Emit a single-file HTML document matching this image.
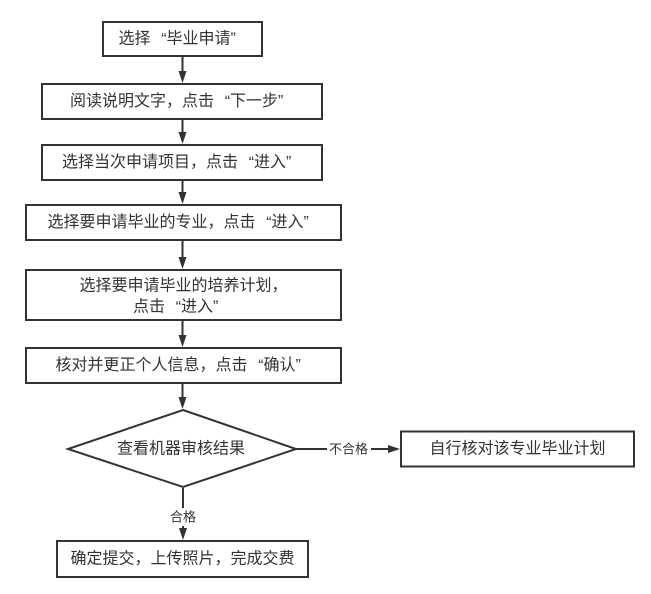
<!DOCTYPE html>
<html>
<head>
<meta charset="utf-8">
<style>
  html, body { margin: 0; padding: 0; background: #ffffff; }
  body { width: 651px; height: 594px; overflow: hidden; }
  svg { display: block; }
  text { font-family: "Liberation Sans", "Noto Sans CJK SC", sans-serif; fill: #333333; }
  .t { font-size: 16px; text-anchor: middle; dominant-baseline: central; }
  .l { font-size: 13px; text-anchor: middle; dominant-baseline: central; }
</style>
</head>
<body>
<svg width="651" height="594" viewBox="0 0 651 594" xmlns="http://www.w3.org/2000/svg">
  <g fill="#ffffff" stroke="#333333" stroke-width="2">
    <rect x="103" y="22" width="159" height="34"/>
    <rect x="42" y="84" width="280" height="35"/>
    <rect x="42" y="145" width="280" height="35"/>
    <rect x="26" y="205" width="315" height="35"/>
    <rect x="26" y="270" width="315" height="50"/>
    <rect x="26" y="348" width="315" height="35"/>
    <polygon points="183,410 296,449 183,487 68,449"/>
    <rect x="401" y="431.5" width="233" height="35"/>
    <rect x="57" y="541" width="251" height="36"/>
  </g>

  <g stroke="#333333" stroke-width="2" fill="none">
    <line x1="182.5" y1="57" x2="182.5" y2="72"/>
    <line x1="182.5" y1="120" x2="182.5" y2="133"/>
    <line x1="182.5" y1="181" x2="182.5" y2="193"/>
    <line x1="182.5" y1="241" x2="182.5" y2="258"/>
    <line x1="182.5" y1="321" x2="182.5" y2="336"/>
    <line x1="182.5" y1="384" x2="182.5" y2="398"/>
    <line x1="183" y1="488" x2="183" y2="529"/>
    <line x1="296" y1="449" x2="389" y2="449"/>
  </g>

  <g fill="#333333">
    <polygon points="178.5,71 186.5,71 182.5,83"/>
    <polygon points="178.5,132 186.5,132 182.5,144"/>
    <polygon points="178.5,192 186.5,192 182.5,204"/>
    <polygon points="178.5,257 186.5,257 182.5,269"/>
    <polygon points="178.5,335 186.5,335 182.5,347"/>
    <polygon points="178.5,397 186.5,397 182.5,409"/>
    <polygon points="179,528 187,528 183,540"/>
    <polygon points="388,445 388,453 400,449"/>
  </g>

  <rect x="168" y="508" width="30" height="18" fill="#ffffff"/>
  <rect x="327" y="440" width="44" height="18" fill="#ffffff"/>

  <text class="t" x="177.2" y="39">选择<tspan dx="10.7">“</tspan>毕业申请”</text>
  <text class="t" x="176.7" y="101.5">阅读说明文字，点击<tspan dx="10.7">“</tspan>下一步”</text>
  <text class="t" x="176.7" y="162.5">选择当次申请项目，点击<tspan dx="10.7">“</tspan>进入”</text>
  <text class="t" x="178.2" y="222.5">选择要申请毕业的专业，点击<tspan dx="10.7">“</tspan>进入”</text>
  <text class="t" x="183.5" y="286">选择要申请毕业的培养计划，</text>
  <text class="t" x="175.7" y="307">点击<tspan dx="10.7">“</tspan>进入”</text>
  <text class="t" x="178.2" y="365.5">核对并更正个人信息，点击<tspan dx="10.7">“</tspan>确认”</text>
  <text class="t" x="181" y="449">查看机器审核结果</text>
  <text class="t" x="517.5" y="449">自行核对该专业毕业计划</text>
  <text class="t" x="182.5" y="559">确定提交，上传照片，完成交费</text>

  <text class="l" x="348.5" y="449">不合格</text>
  <text class="l" x="183" y="517">合格</text>
</svg>
</body>
</html>
